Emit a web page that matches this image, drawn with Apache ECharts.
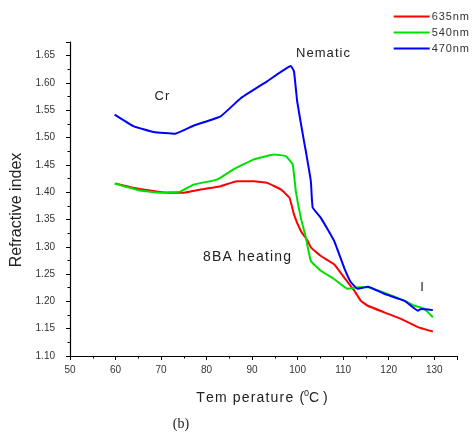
<!DOCTYPE html>
<html>
<head>
<meta charset="utf-8">
<script src="https://cdn.jsdelivr.net/npm/echarts@6/dist/echarts.min.js"></script>
<style>
  html, body { margin: 0; padding: 0; background: #fff; }
  #chart { width: 474px; height: 433px; }
</style>
</head>
<body>
<div id="chart"></div>
<script>
// temperature (°C), refractive index
const red635 = [
  [60, 1.416], [63.9, 1.408], [67.6, 1.403], [71.3, 1.399], [75, 1.399],
  [78.7, 1.405], [83.1, 1.411], [86.7, 1.420], [90.4, 1.420], [93.3, 1.417],
  [96.3, 1.405], [98.2, 1.390], [99.2, 1.359], [100.7, 1.329], [102.2, 1.311],
  [102.9, 1.299], [105.1, 1.283], [108, 1.268], [110.2, 1.244], [112.4, 1.220],
  [113.9, 1.201], [115.4, 1.192], [119, 1.180], [122.7, 1.168], [126.4, 1.153],
  [129.7, 1.145]
]
const green540 = [
  [59.8, 1.416], [65.4, 1.403], [69.8, 1.399], [74.2, 1.401], [77.2, 1.414],
  [82.3, 1.423], [86, 1.442], [90.4, 1.460], [94.8, 1.469], [97.4, 1.466],
  [98.9, 1.451], [99.6, 1.402], [100.7, 1.353], [101.8, 1.317], [102.9, 1.274],
  [105.1, 1.256], [108, 1.241], [111, 1.223], [113.2, 1.226], [115.4, 1.226],
  [119, 1.216], [123.5, 1.201], [125.7, 1.192], [127.9, 1.186], [129.7, 1.171]
]
const blue470 = [
  [59.8, 1.542], [63.9, 1.521], [68.4, 1.510], [73.1, 1.507], [77.2, 1.522],
  [83.1, 1.539], [87.5, 1.572], [93.3, 1.603], [98.5, 1.631], [99.2, 1.621],
  [99.9, 1.566], [101.4, 1.493], [101.8, 1.475], [102.9, 1.420], [103.3, 1.372],
  [105.1, 1.353], [108, 1.311], [110.2, 1.262], [111.7, 1.235], [113.2, 1.223],
  [115.4, 1.227], [119, 1.214], [123.5, 1.201], [126.4, 1.183], [127.1, 1.186],
  [129.7, 1.184]
]
const seriesNames = ['635nm', '540nm', '470nm']
const seriesColors = ['#ff0000', '#00e000', '#0000ff']

// the scanned figure has wide letter spacing
const spaced = s => s.split('').join('\u200a')

const chart = echarts.init(document.getElementById('chart'))
const tickFont = { color: '#333', fontSize: 10, fontFamily: 'Arial' }
const txt = (x, y, text, size) => ({
  type: 'text', x, y,
  style: { text, fontSize: size || 13, fontFamily: 'Arial', fill: '#222', align: 'center', verticalAlign: 'middle' }
})

chart.setOption({
  animation: false,
  grid: { left: 70, right: 17, top: 42, bottom: 77 },
  legend: {
    orient: 'vertical', right: 0, top: 6, itemGap: 5,
    itemWidth: 36, itemHeight: 6,
    icon: 'path://M0,0 L36,0 L36,2 L0,2 Z',
    formatter: spaced,
    textStyle: { fontSize: 11, fontFamily: 'Arial', color: '#333', padding: [0, 0, 0, -3] },
    data: seriesNames
  },
  xAxis: {
    type: 'value', min: 50, max: 135, interval: 10,
    axisLine: { lineStyle: { color: '#000', width: 1.2 } },
    axisTick: { length: 4, lineStyle: { color: '#000' } },
    minorTick: { show: true, splitNumber: 2, length: 2.5, lineStyle: { color: '#000' } },
    axisLabel: Object.assign({ showMaxLabel: false, margin: 9 }, tickFont),
    splitLine: { show: false }
  },
  yAxis: {
    type: 'value', min: 1.10, max: 1.675, interval: 0.05,
    axisLine: { show: true, lineStyle: { color: '#000', width: 1.2 } },
    axisTick: { show: true, length: 4, lineStyle: { color: '#000' } },
    minorTick: { show: true, splitNumber: 2, length: 2.5, lineStyle: { color: '#000' } },
    axisLabel: Object.assign({ showMaxLabel: false, margin: 15, formatter: v => v.toFixed(2) }, tickFont),
    splitLine: { show: false }
  },
  series: [red635, green540, blue470].map((d, i) => ({
    name: seriesNames[i], type: 'line', data: d,
    showSymbol: false, symbol: 'none', smooth: 0.1,
    lineStyle: { width: 2, color: seriesColors[i] },
    itemStyle: { color: seriesColors[i] }
  })),
  graphic: [
    Object.assign(txt(17, 210, 'Refractive index', 16), { rotation: Math.PI / 2 }),
    { type: 'text', x: 262, y: 398, style: {
        text: '{a|' + spaced('Tem perature (') + '}{s|0}{a|C )}', align: 'center', verticalAlign: 'middle',
        rich: { a: { fontSize: 14, fontFamily: 'Arial', fill: '#222' }, s: { fontSize: 9, fontFamily: 'Arial', fill: '#222', padding: [0, 0, 9, 0] } }
      } },
    { type: 'text', x: 181, y: 424, style: { text: '(b)', fontSize: 14, fontFamily: 'Liberation Serif', fill: '#222', align: 'center', verticalAlign: 'middle' } },
    txt(323, 53, spaced('Nematic'), 13),
    txt(162, 96, spaced('Cr'), 13),
    txt(247, 257, spaced('8BA heating'), 14),
    txt(422, 287, 'I', 13)
  ]
})
</script>
</body>
</html>
